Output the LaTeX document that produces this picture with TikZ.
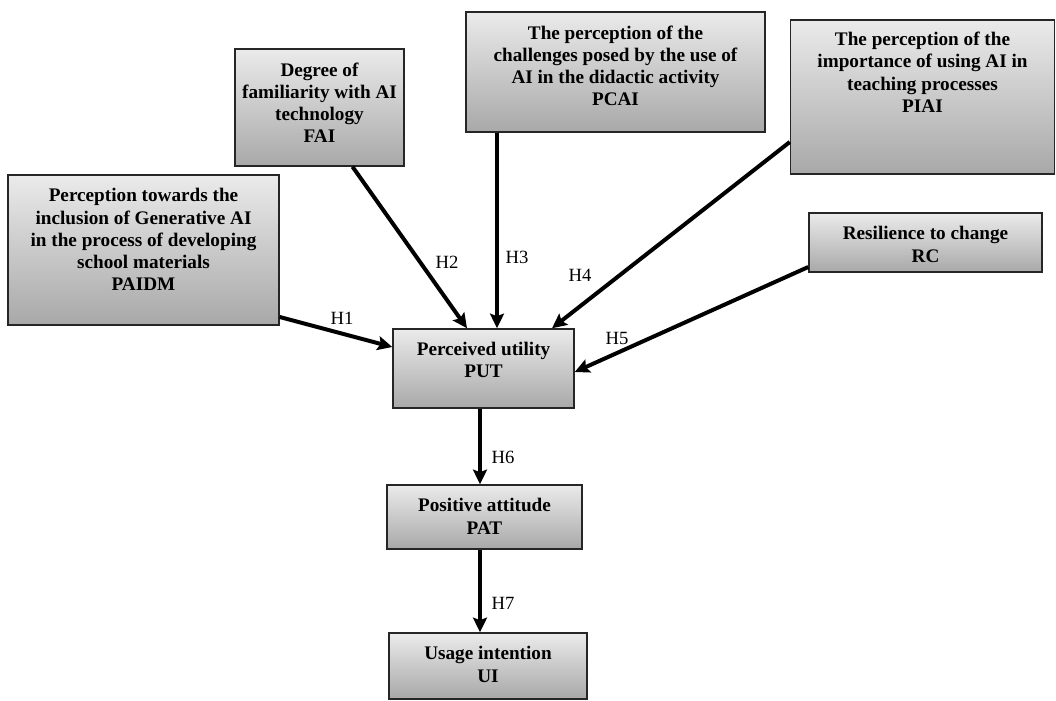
\documentclass[tikz,border=0pt]{standalone}
\usepackage{fontspec}
\setmainfont{Liberation Serif}
\usepackage{tikz}
\usetikzlibrary{arrows.meta,calc,positioning}
\tikzset{
  boxsize/.style 2 args={minimum width=#1*0.75pt,minimum height=#2*0.75pt},
  varbox/.style={draw=black!85,line width=1.1pt,top color=black!8,bottom color=black!34,inner sep=0pt},
  vartxt/.style={align=center,inner sep=0pt,font=\fontsize{14.4}{16.65}\selectfont\bfseries},
  hyp/.style={line width=3pt,-{Stealth[length=11pt,width=10.5pt,inset=2pt]}},
  hlab/.style={font=\fontsize{14}{16}\selectfont}
}

\begin{document}
\begin{tikzpicture}[x=0.75pt,y=-0.75pt,>=Stealth]
  \useasboundingbox (0,0) rectangle (1056,700);
  % constructs
  \node[varbox,boxsize={271}{150}] (paidm) at (143.5,250) {};
  \node[varbox,boxsize={169}{117}] (fai) at (319.5,107.5) {};
  \node[varbox,boxsize={299}{120}] (pcai) at (615.5,72) {};
  \node[varbox,boxsize={264}{154}] (piai) at (922.5,97) {};
  \node[varbox,boxsize={233}{59}] (rc) at (925.5,242.5) {};
  \node[varbox,boxsize={181}{79}] (put) at (483.5,368.5) {};
  \node[varbox,boxsize={195}{64}] (pat) at (484.5,517) {};
  \node[varbox,boxsize={198}{66}] (ui) at (488,666) {};
  % box texts
  \node[vartxt,below=10.5pt of paidm.north] (paidm-t) {Perception towards the\\inclusion of Generative AI\\in the process of developing\\school materials\\PAIDM};
  \node[vartxt,below=10.5pt of fai.north] (fai-t) {Degree of\\familiarity with AI\\technology\\FAI};
  \node[vartxt,below=10.5pt of pcai.north] (pcai-t) {The perception of the\\challenges posed by the use of\\AI in the didactic activity\\PCAI};
  \node[vartxt,below=9.5pt of piai.north] (piai-t) {The perception of the\\importance of using AI in\\teaching processes\\PIAI};
  \node[vartxt,below=10.5pt of rc.north] (rc-t) {Resilience to change\\RC};
  \node[vartxt,below=10pt of put.north] (put-t) {Perceived utility\\PUT};
  \node[vartxt,below=10.5pt of pat.north] (pat-t) {Positive attitude\\PAT};
  \node[vartxt,below=10.5pt of ui.north] (ui-t) {Usage intention\\UI};
  % hypotheses
  \draw[hyp] ($(paidm.east)+(0,67)$) -- ($(put.west)+(0,-21.5)$);
  \draw[hyp] ($(fai.south)+(33,0)$) -- ($(put.north)+(-16.5,0)$);
  \draw[hyp] ($(pcai.south)+(-118.5,0)$) -- ($(put.north)+(13.5,0)$);
  \draw[hyp] ($(piai.west)+(0,45)$) -- ($(put.north)+(68.5,0)$);
  \draw[hyp] ($(rc.west)+(0,24.5)$) -- ($(put.east)+(0,3.5)$);
  \draw[hyp] ($(put.south)+(-3.5,0)$) -- ($(pat.north)+(-4.5,0)$);
  \draw[hyp] ($(pat.south)+(-4.5,0)$) -- ($(ui.north)+(-8,0)$);
  \node[hlab] (h1) at (342,318) {H1};
  \node[hlab] (h2) at (447,262) {H2};
  \node[hlab] (h3) at (517,257) {H3};
  \node[hlab] (h4) at (580,275) {H4};
  \node[hlab] (h5) at (617,338) {H5};
  \node[hlab] (h6) at (503,457) {H6};
  \node[hlab] (h7) at (503,603) {H7};
\end{tikzpicture}
\end{document}
